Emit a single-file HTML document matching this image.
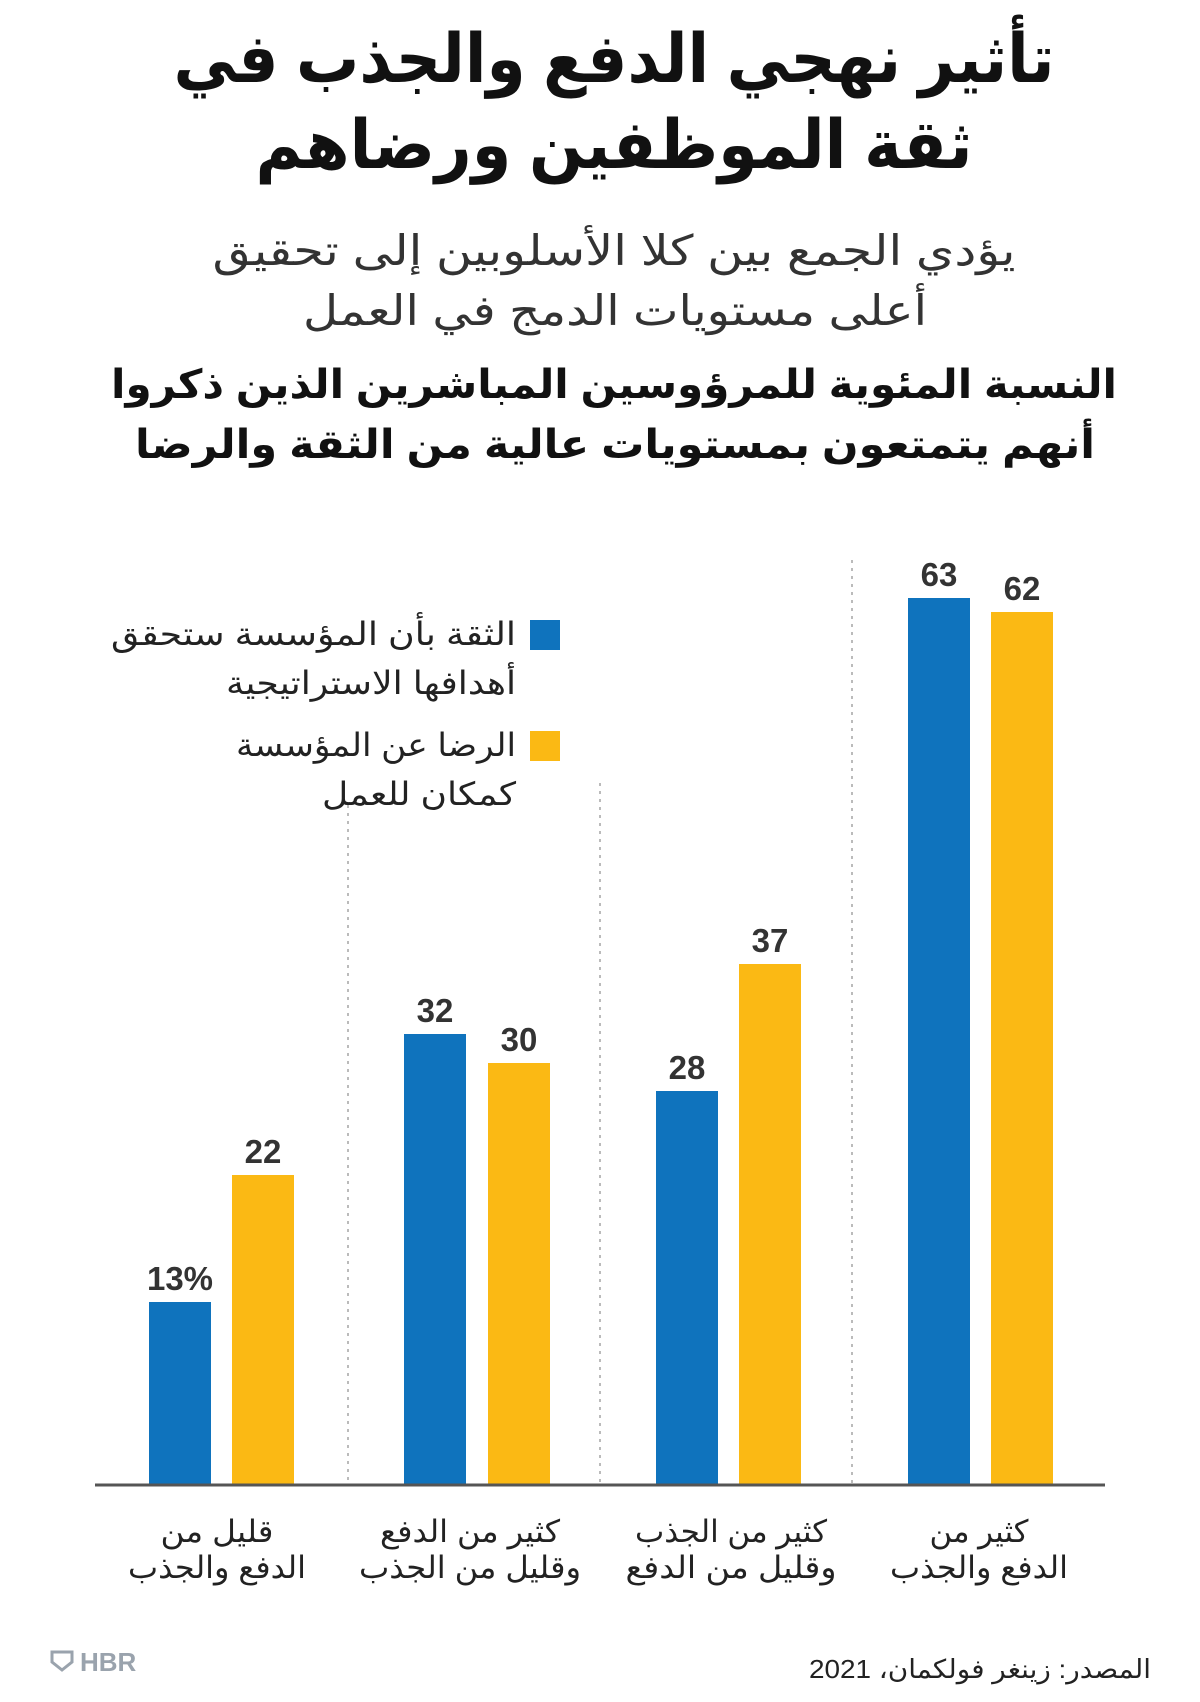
<!DOCTYPE html>
<html><head><meta charset="utf-8"><style>
body{margin:0;background:#fff;}
svg text{font-family:"Liberation Sans","DejaVu Sans",sans-serif;}
</style></head><body>
<svg width="1200" height="1697" viewBox="0 0 1200 1697" xmlns="http://www.w3.org/2000/svg">
<g text-anchor="middle" fill="#111">
<text x="614" y="82" font-size="68" font-weight="bold" direction="rtl" textLength="881" lengthAdjust="spacingAndGlyphs">تأثير نهجي الدفع والجذب في</text>
<text x="614" y="168" font-size="68" font-weight="bold" direction="rtl" textLength="717" lengthAdjust="spacingAndGlyphs">ثقة الموظفين ورضاهم</text>
<text x="614" y="265" font-size="42" fill="#333" direction="rtl" textLength="803" lengthAdjust="spacingAndGlyphs">يؤدي الجمع بين كلا الأسلوبين إلى تحقيق</text>
<text x="615" y="325" font-size="42" fill="#333" direction="rtl" textLength="624" lengthAdjust="spacingAndGlyphs">أعلى مستويات الدمج في العمل</text>
<text x="614" y="398" font-size="40" font-weight="bold" direction="rtl" textLength="1006" lengthAdjust="spacingAndGlyphs">النسبة المئوية للمرؤوسين المباشرين الذين ذكروا</text>
<text x="615" y="458" font-size="40" font-weight="bold" direction="rtl" textLength="960" lengthAdjust="spacingAndGlyphs">أنهم يتمتعون بمستويات عالية من الثقة والرضا</text>
</g>
<g stroke="#bbb" stroke-width="2" stroke-dasharray="3,5">
<line x1="348" y1="805" x2="348" y2="1485"/>
<line x1="600" y1="783" x2="600" y2="1485"/>
<line x1="852" y1="560" x2="852" y2="1485"/>
</g>
<g fill="#0f73bd">
<rect x="149" y="1302" width="62" height="183"/>
<rect x="404" y="1034" width="62" height="451"/>
<rect x="656" y="1091" width="62" height="394"/>
<rect x="908" y="598" width="62" height="887"/>
<rect x="530" y="620" width="30" height="30"/>
</g>
<g fill="#fbb914">
<rect x="232" y="1175" width="62" height="310"/>
<rect x="488" y="1063" width="62" height="422"/>
<rect x="739" y="964" width="62" height="521"/>
<rect x="991" y="612" width="62" height="873"/>
<rect x="530" y="731" width="30" height="30"/>
</g>
<line x1="95" y1="1485" x2="1105" y2="1485" stroke="#555" stroke-width="3"/>
<g font-size="33" font-weight="bold" fill="#333" text-anchor="middle">
<text x="180" y="1290">13%</text>
<text x="263" y="1163">22</text>
<text x="435" y="1022">32</text>
<text x="519" y="1051">30</text>
<text x="687" y="1079">28</text>
<text x="770" y="952">37</text>
<text x="939" y="586">63</text>
<text x="1022" y="600">62</text>
</g>
<g font-size="32" fill="#222" text-anchor="end">
<text x="516" y="645" textLength="405" lengthAdjust="spacingAndGlyphs">الثقة بأن المؤسسة ستحقق</text>
<text x="516" y="694" textLength="290" lengthAdjust="spacingAndGlyphs">أهدافها الاستراتيجية</text>
<text x="516" y="756" textLength="280" lengthAdjust="spacingAndGlyphs">الرضا عن المؤسسة</text>
<text x="516" y="805" textLength="194" lengthAdjust="spacingAndGlyphs">كمكان للعمل</text>
</g>
<g font-size="31" fill="#222" text-anchor="middle">
<text x="217" y="1542" textLength="113" lengthAdjust="spacingAndGlyphs">قليل من</text><text x="217" y="1578" textLength="178" lengthAdjust="spacingAndGlyphs">الدفع والجذب</text>
<text x="470" y="1542" textLength="180" lengthAdjust="spacingAndGlyphs">كثير من الدفع</text><text x="470" y="1578" textLength="222" lengthAdjust="spacingAndGlyphs">وقليل من الجذب</text>
<text x="731" y="1542" textLength="192" lengthAdjust="spacingAndGlyphs">كثير من الجذب</text><text x="731" y="1578" textLength="211" lengthAdjust="spacingAndGlyphs">وقليل من الدفع</text>
<text x="979" y="1542" textLength="99" lengthAdjust="spacingAndGlyphs">كثير من</text><text x="979" y="1578" textLength="178" lengthAdjust="spacingAndGlyphs">الدفع والجذب</text>
</g>
<text x="1151" y="1678" font-size="26" fill="#222" text-anchor="end" textLength="342" lengthAdjust="spacingAndGlyphs">المصدر: زينغر فولكمان، 2021</text>
<path d="M52 1652 h20 v10 l-10 8 l-10 -8 z" fill="none" stroke="#9aa3ad" stroke-width="3"/>
<text x="80" y="1671" font-size="26" font-weight="bold" fill="#9aa3ad">HBR</text>
</svg>
</body></html>
